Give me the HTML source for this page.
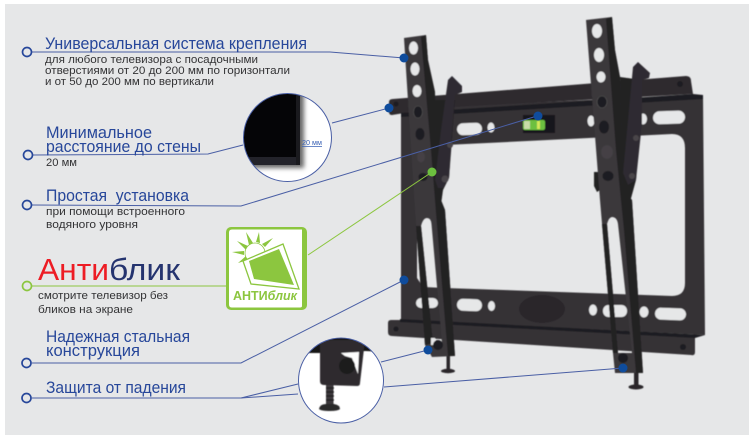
<!DOCTYPE html>
<html><head><meta charset="utf-8">
<style>
html,body{margin:0;padding:0;background:#fff;width:750px;height:438px;overflow:hidden}
svg{display:block}
text{font-family:"Liberation Sans",sans-serif}
.h{fill:#27479a;font-size:17px}
.s{fill:#333335;font-size:11px}
.l{fill:none;stroke:#4a5fa5;stroke-width:1}
.c{fill:#e6e7e8;stroke:#27479a;stroke-width:1.7}
.d{fill:#0f4c9c}
.hole{fill:#e6e7e8}
.dk{fill:#1f1d20}
.arm{fill:#3a373b;fill-rule:evenodd}
.piv{fill:#2f2c30}
.fold{fill:#232124}
</style></head><body>
<svg width="750" height="438" viewBox="0 0 750 438" xmlns="http://www.w3.org/2000/svg">
<defs>
<filter id="b" x="-5%" y="-5%" width="110%" height="110%"><feGaussianBlur stdDeviation="0.45"/></filter>
<filter id="sh" x="-100%" y="-20%" width="300%" height="140%"><feGaussianBlur stdDeviation="2.500"/></filter>
<clipPath id="m1"><circle cx="287.500" cy="137.500" r="44"/></clipPath>
<clipPath id="m2"><circle cx="341" cy="380.500" r="42.500"/></clipPath>
</defs>
<rect x="0" y="0" width="750" height="438" fill="#fff"/>
<rect x="5" y="4" width="744" height="431" fill="#e6e7e8"/>

<g filter="url(#b)">
<!-- frame with window -->
<path fill-rule="evenodd" fill="#353236" d="M401 108 L703 95 L705 335 L401 320 Z
M417 150 L445 145 L672 134 Q685 134 685 148 L685 283 Q685 296 672 296 L445 288 L423 287 L417 278 Z"/>
<!-- top flange -->
<path d="M393 99 L686 76 Q691 76 691 81 L693 94 L435 108 L392 115 Q389 115 389 112 L389 102 Q389 99 393 99 Z" fill="#2e2b2f"/>
<path d="M401 113 L693 94 L703 95 L703 99 L401 117 Z" fill="#1f1d20"/>
<!-- slots top -->
<rect x="457" y="123" width="25" height="12" rx="6" class="hole" transform="rotate(-2 469 129)"/>
<ellipse cx="491" cy="127.500" rx="3.500" ry="5" class="hole"/>
<rect x="653" y="111" width="32" height="13" rx="6.500" class="hole" transform="rotate(-2 668 117)"/>
<ellipse cx="643" cy="119" rx="4" ry="5.500" class="hole"/>
<ellipse cx="591" cy="121" rx="3.500" ry="5.500" class="hole"/>
<!-- slots bottom -->
<rect x="416" y="298" width="22" height="10" rx="5" class="hole"/>
<rect x="457" y="299" width="25" height="12" rx="6" class="hole" transform="rotate(2 469 305)"/>
<ellipse cx="491.500" cy="306" rx="3.500" ry="5" class="hole"/>
<ellipse cx="593" cy="310" rx="4" ry="5.500" class="hole"/>
<rect x="603" y="305" width="24" height="12" rx="5.500" class="hole"/>
<ellipse cx="644" cy="312" rx="4.500" ry="5.500" class="hole"/>
<rect x="655" y="308" width="31" height="12" rx="6" class="hole" transform="rotate(2 670 314)"/>
<ellipse cx="542" cy="309" rx="23" ry="14" fill="#2a282b"/>
<!-- bottom flange -->
<path d="M391 320 L400 320 L695 335 L695 352 Q695 356 691 355 L392 336 Q388 336 388 332 L388 323 Q388 320 391 320 Z" fill="#343135"/>
<path d="M400 319 L705 335 L695 338 L400 322 Z" fill="#1f1d20"/>
<circle cx="396" cy="104" r="2.500" class="dk"/><circle cx="680" cy="84" r="3" class="dk"/>
<circle cx="396" cy="329" r="2.500" class="dk"/><circle cx="683" cy="347" r="3" class="dk"/>
<!-- level -->
<rect x="523" y="115" width="32" height="18" fill="#19181a"/>
<rect x="523" y="120" width="22" height="10" rx="2" fill="#6cc040"/>
<rect x="524" y="121" width="6" height="8" fill="#c8dca8"/>
<rect x="537" y="121" width="3" height="8" fill="#d3e85a"/>

<!-- bolts -->
<rect x="446.500" y="356" width="3.500" height="14" fill="#2a282b"/>
<ellipse cx="448" cy="371" rx="7" ry="2.200" fill="#2a282b"/>
<rect x="634" y="372" width="4.500" height="14" fill="#2a282b"/>
<ellipse cx="636" cy="387" rx="7.500" ry="2.500" fill="#2a282b"/>

<!-- fillers behind pivots -->
<path d="M435 100 L455 100 L449 178 L443 190 L440 212 L436 190 Z" fill="#232124"/>
<path d="M620 77 L642 80 L636 180 L630 202 L622 190 Z" fill="#232124"/>
<path d="M594 172 L600 172 L600 190 L597 192 L594 186 Z" fill="#232124"/>

<!-- left arm -->
<path class="arm" d="M404 38 L426 35 L428 60 L435 92 L437 190 L445 210 L455 356 L432 357 L425 345 L415 210 Z
M421 226 Q423 218 427 218 Q431 218 431.500 224 L442 343 L433 343 Z"/>
<path class="fold" d="M421 37 L426 35 L428 60 L435 92 L437 190 L445 210 L455 356 L448 356 L437 225 L431 150 Z"/>
<path class="fold" d="M416 226 L421 226 L433 343 L425 345 Z"/>
<path d="M431 338 L435 338 L435 345 L431 345 Z" fill="#e6e7e8"/>
<circle cx="438" cy="345" r="5" fill="#1f1d20"/>
<ellipse cx="415" cy="69" rx="4.500" ry="6.500" class="hole"/>
<ellipse cx="413.500" cy="48" rx="4.500" ry="6.500" class="hole"/>
<ellipse cx="417" cy="91" rx="4.500" ry="6" class="hole"/>
<ellipse cx="418" cy="112" rx="4.500" ry="6" fill="#1f1d20" stroke="#555" stroke-width="0.600"/>
<ellipse cx="420" cy="134" rx="4.500" ry="6" class="dk"/>
<ellipse cx="421" cy="157" rx="4" ry="5.500" fill="#444145"/>
<ellipse cx="423" cy="177" rx="4.500" ry="4" class="dk"/>
<!-- left pivot -->
<path class="piv" d="M448 80 L452 76 L462 86 L462 92 L455 95 L451 145 L449 178 L443 188 L438 188 L435 180 L441 130 Z"/>
<circle cx="450" cy="145" r="3" fill="#484548"/><circle cx="445" cy="179" r="3.500" fill="#484548"/>

<!-- right arm -->
<path class="arm" d="M586 20 L612 17 L615 50 L620 77 L623 190 L632 200 L643 373 L615 373 L613 353 L600 200 Z
M607 224 Q609 217 612 217 Q617 217 618 224 L632 353 L618 353 Z"/>
<path class="fold" d="M606 19 L612 17 L615 50 L620 77 L623 190 L632 200 L643 373 L636 373 L624 230 L616 150 Z"/>
<path class="fold" d="M602 224 L607 224 L618 353 L613 353 Z"/>
<circle cx="623" cy="358" r="5" fill="#1f1d20"/>
<ellipse cx="597" cy="31" rx="5" ry="7" class="hole"/>
<ellipse cx="599" cy="55" rx="5" ry="7" class="hole"/>
<ellipse cx="601" cy="77" rx="4.500" ry="5.500" class="hole"/>
<ellipse cx="602" cy="102" rx="5" ry="6" fill="#1f1d20" stroke="#555" stroke-width="0.600"/>
<ellipse cx="604" cy="127" rx="5" ry="6.500" class="dk"/>
<ellipse cx="607" cy="152" rx="6" ry="7" fill="#444145"/>
<ellipse cx="608" cy="176" rx="5.500" ry="5" class="dk"/>
<!-- right pivot -->
<path class="piv" d="M633 67 L638 62 L650 73 L649 78 L642 80 L642 123 L636 180 L628 185 L623 173 Z"/>
<circle cx="636" cy="138" r="3" fill="#484548"/><circle cx="632" cy="176" r="3" fill="#484548"/>
</g>

<!-- connector lines -->
<polyline class="l" points="32,52 330,52 404,58"/>
<polyline class="l" points="33,155 208,154 243,145"/>
<line class="l" x1="332" y1="123" x2="389" y2="108"/>
<polyline class="l" points="32,205 241,206 537,116"/>
<polyline points="32,286 226,286" fill="none" stroke="#8cc63f" stroke-width="1"/>
<line x1="308" y1="255" x2="432" y2="172" stroke="#8cc63f" stroke-width="1"/>
<polyline class="l" points="32,363 241,363 404,280"/>
<polyline class="l" points="32,398 241,398 298,384"/>
<line class="l" x1="241" y1="398" x2="298" y2="394"/>
<line class="l" x1="381" y1="362" x2="428" y2="350"/>
<line class="l" x1="384" y1="387" x2="623" y2="368"/>

<circle class="c" cx="27" cy="52" r="4.500"/>
<circle class="c" cx="28" cy="155" r="4.500"/>
<circle class="c" cx="27" cy="205" r="4.500"/>
<circle cx="27" cy="286" r="4.500" fill="#e6e7e8" stroke="#8cc63f" stroke-width="1.700"/>
<circle class="c" cx="26.500" cy="363" r="4.500"/>
<circle class="c" cx="26.500" cy="398" r="4.500"/>

<circle class="d" cx="404" cy="58" r="4.500"/>
<circle class="d" cx="389" cy="108" r="4.500"/>
<circle class="d" cx="538" cy="116" r="4.500"/>
<circle cx="432" cy="172" r="4.500" fill="#6cbf3f"/>
<circle class="d" cx="404" cy="280" r="4.500"/>
<circle class="d" cx="428" cy="350" r="4.500"/>
<circle class="d" cx="623" cy="368" r="4.500"/>

<!-- magnifier 1 -->
<circle cx="287.500" cy="137.500" r="44" fill="#fff"/>
<g clip-path="url(#m1)">
<rect x="236" y="90" width="68" height="78" fill="#666" filter="url(#sh)"/>
<rect x="236" y="88" width="64" height="69" fill="#050507"/>
<rect x="236" y="157" width="61" height="8" fill="#23232a"/>
<rect x="296" y="88" width="4" height="77" fill="#1a1a1e"/>
</g>
<circle cx="287.500" cy="137.500" r="44" fill="none" stroke="#4a5fa5" stroke-width="1"/>
<text x="302" y="145" fill="#3a62b5" font-size="7.500" textLength="20" lengthAdjust="spacingAndGlyphs" text-decoration="underline">20 мм</text>

<!-- magnifier 2 -->
<circle cx="341" cy="380.500" r="42.500" fill="#fff"/>
<g clip-path="url(#m2)" filter="url(#b)">
<path d="M296 336 L390 336 L390 352 L365 351 L340 353 L320 353 L308 353 L296 355 Z" fill="#151416"/>
<path d="M320 340 L365 340 L360 383 Q360 386 357 386 L324 385 Q320 385 320 381 Z" fill="#2d2b2e"/>
<path d="M341 353 L359 352 L358 374 L352 358 L345 356 Z" fill="#fff"/>
<circle cx="347" cy="366" r="8" fill="#1d1b1e"/>
<rect x="326" y="385" width="7.500" height="19" fill="#3a383b"/>
<path d="M326 388h8M326 392h8M326 396h8M326 400h8" stroke="#111" stroke-width="1"/>
<path d="M319 409 Q320 404 326 404 L334 404 Q340 405 340 409 Q338 411 330 411 Q321 411 319 409 Z" fill="#2b292c"/>
</g>
<circle cx="341" cy="380.500" r="42.500" fill="none" stroke="#4a5fa5" stroke-width="1"/>

<!-- badge -->
<rect x="226" y="227" width="81" height="83" rx="5" fill="#8cc63f"/>
<path d="M232 229.500 L302 229.500 L302 306 Q302 307.500 300 307.500 L232 307.500 Q229 307.500 229 304.500 L229 232.500 Q229 229.500 232 229.500 Z" fill="#fff"/>
<g fill="#8cc63f">
<path d="M246 232 L253 243 L249 245 Z"/><path d="M259 232 L260 243 L256 242 Z"/><path d="M273 238 L265 247 L262 244 Z"/>
<path d="M237 241 L248 246 L246 250 Z"/><path d="M232 252 L244 251 L244 255 Z"/><path d="M238 263 L246 256 L248 260 Z"/>
</g>
<circle cx="255" cy="253" r="10" fill="#fff" stroke="#8cc63f" stroke-width="0.800"/>
<polygon points="243,261 283,244 299,289 251,284" fill="#fff" stroke="#8cc63f" stroke-width="1.300"/>
<polygon points="249,261 279,249 294,285 254,279" fill="#8cc63f"/>
<text x="233" y="300" fill="#8cc63f" font-size="12.500" font-weight="bold" textLength="64" lengthAdjust="spacingAndGlyphs">АНТИ<tspan font-style="italic">блик</tspan></text>

<!-- text -->
<text class="h" x="45" y="49" textLength="262" lengthAdjust="spacingAndGlyphs">Универсальная система крепления</text>
<text class="s" x="45" y="63" textLength="213" lengthAdjust="spacingAndGlyphs">для любого телевизора с посадочными</text>
<text class="s" x="45" y="74" textLength="245" lengthAdjust="spacingAndGlyphs">отверстиями от 20 до 200 мм по горизонтали</text>
<text class="s" x="45" y="85" textLength="169" lengthAdjust="spacingAndGlyphs">и от 50 до 200 мм по вертикали</text>
<text class="h" x="46" y="138" textLength="106" lengthAdjust="spacingAndGlyphs">Минимальное</text>
<text class="h" x="46" y="152" textLength="155" lengthAdjust="spacingAndGlyphs">расстояние до стены</text>
<text class="s" x="46" y="166" textLength="31" lengthAdjust="spacingAndGlyphs">20 мм</text>
<text class="h" x="46" y="201" textLength="143" lengthAdjust="spacingAndGlyphs" xml:space="preserve">Простая  установка</text>
<text class="s" x="46" y="215" textLength="139" lengthAdjust="spacingAndGlyphs">при помощи встроенного</text>
<text class="s" x="46" y="228" textLength="92" lengthAdjust="spacingAndGlyphs">водяного уровня</text>
<text x="38" y="280" font-size="31" fill="#ed1c24" textLength="71" lengthAdjust="spacingAndGlyphs">Анти</text>
<text x="109" y="280" font-size="31" fill="#25346f" textLength="71" lengthAdjust="spacingAndGlyphs">блик</text>
<text class="s" x="38" y="299" textLength="130" lengthAdjust="spacingAndGlyphs">смотрите телевизор без</text>
<text class="s" x="38" y="313" textLength="95" lengthAdjust="spacingAndGlyphs">бликов на экране</text>
<text class="h" x="46" y="342" textLength="144" lengthAdjust="spacingAndGlyphs">Надежная стальная</text>
<text class="h" x="46" y="356" textLength="94" lengthAdjust="spacingAndGlyphs">конструкция</text>
<text class="h" x="46" y="393" textLength="140" lengthAdjust="spacingAndGlyphs">Защита от падения</text>
</svg>
</body></html>
